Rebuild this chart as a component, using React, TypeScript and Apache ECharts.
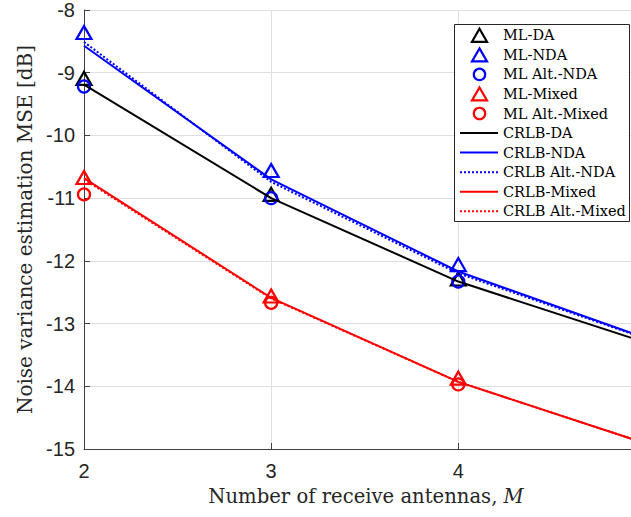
import React, { useEffect, useRef } from 'react';
import * as echarts from 'echarts';

// Number of receive antennas M
const antennasML = [2, 3, 4];
const antennasCRLB = [2, 3, 4, 5];

// Simulated ML estimators (markers)
const mlDA = [-9.09, -10.94, -12.29];
const mlNDA = [-8.36, -10.56, -12.06];
const mlAltNDA = [-9.22, -11.0, -12.33];
const mlMixed = [-10.67, -12.56, -13.87];
const mlAltMixed = [-10.94, -12.67, -13.97];

// CRLB curves (lines)
const crlbDA = [-9.19, -11.0, -12.33, -13.3];
const crlbNDA = [-8.57, -10.7, -12.17, -13.23];
const crlbAltNDA = [-8.51, -10.74, -12.2, -13.24];
const crlbMixed = [-10.68, -12.59, -13.93, -14.91];
const crlbAltMixed = [-10.7, -12.6, -13.93, -14.91];

const yTicks = [-15, -14, -13, -12, -11, -10, -9, -8];
const xTicks = [2, 3, 4];

const BLACK = '#000000';
const BLUE = '#0000ff';
const RED = '#ff0000';

type MarkerDef = { name: string; symbol: 'triangle' | 'circle'; color: string; values: number[] };
type LineDef = { name: string; dotted: boolean; color: string; values: number[] };

const markerDefs: MarkerDef[] = [
  { name: 'ML-DA', symbol: 'triangle', color: BLACK, values: mlDA },
  { name: 'ML-NDA', symbol: 'triangle', color: BLUE, values: mlNDA },
  { name: 'ML Alt.-NDA', symbol: 'circle', color: BLUE, values: mlAltNDA },
  { name: 'ML-Mixed', symbol: 'triangle', color: RED, values: mlMixed },
  { name: 'ML Alt.-Mixed', symbol: 'circle', color: RED, values: mlAltMixed },
];

const lineDefs: LineDef[] = [
  { name: 'CRLB-DA', dotted: false, color: BLACK, values: crlbDA },
  { name: 'CRLB-NDA', dotted: false, color: BLUE, values: crlbNDA },
  { name: 'CRLB Alt.-NDA', dotted: true, color: BLUE, values: crlbAltNDA },
  { name: 'CRLB-Mixed', dotted: false, color: RED, values: crlbMixed },
  { name: 'CRLB Alt.-Mixed', dotted: true, color: RED, values: crlbAltMixed },
];

const AXIS_COLOR = '#404040';
const TEXT_COLOR = '#262626';
const SERIF = '"DejaVu Serif", "Liberation Serif", serif';
const SANS = '"Liberation Sans", Arial, Helvetica, sans-serif';
const DOT_DASH = [2, 2];
const MARKER_STROKE = 2.2;

function buildLegend() {
  const left = 454.5;
  const top = 24.5;
  const width = 175;
  const height = 197;
  const firstY = 35.3;
  const step = 19.55;
  const iconCx = 479.5;
  const lineX1 = 460;
  const lineX2 = 498;
  const textX = 503;
  const children: any[] = [
    {
      type: 'rect',
      shape: { x: left, y: top, width, height },
      style: { fill: '#ffffff', stroke: '#262626', lineWidth: 1 },
      z: 100,
      silent: true,
    },
  ];
  const all: { name: string; draw: (cy: number) => any }[] = [];
  markerDefs.forEach((m) => {
    all.push({
      name: m.name,
      draw: (cy: number) =>
        m.symbol === 'triangle'
          ? {
              type: 'polygon',
              shape: {
                points: [
                  [iconCx, cy - 6.5],
                  [iconCx + 7.5, cy + 6.5],
                  [iconCx - 7.5, cy + 6.5],
                ],
              },
              style: { fill: 'none', stroke: m.color, lineWidth: MARKER_STROKE },
              z: 101,
              silent: true,
            }
          : {
              type: 'circle',
              shape: { cx: iconCx, cy, r: 5.7 },
              style: { fill: 'none', stroke: m.color, lineWidth: MARKER_STROKE },
              z: 101,
              silent: true,
            },
    });
  });
  lineDefs.forEach((l) => {
    all.push({
      name: l.name,
      draw: (cy: number) => ({
        type: 'line',
        shape: { x1: lineX1, y1: cy, x2: lineX2, y2: cy },
        style: {
          stroke: l.color,
          lineWidth: 2,
          lineDash: l.dotted ? DOT_DASH : null,
        },
        z: 101,
        silent: true,
      }),
    });
  });
  all.forEach((item, i) => {
    const cy = firstY + i * step;
    children.push(item.draw(cy));
    children.push({
      type: 'text',
      x: textX,
      y: cy,
      style: {
        text: item.name,
        fill: '#000000',
        font: `14.5px ${SERIF}`,
        textVerticalAlign: 'middle',
        verticalAlign: 'middle',
        align: 'left',
      },
      z: 101,
      silent: true,
    });
  });
  return children;
}

export default function App() {
  const ref = useRef<HTMLDivElement>(null);

  useEffect(() => {
    if (!ref.current) return;
    const chart = echarts.init(ref.current, undefined, { renderer: 'svg' });

    const series: any[] = [];
    markerDefs.forEach((m) => {
      series.push({
        name: m.name,
        type: 'scatter',
        symbol: m.symbol,
        symbolSize: m.symbol === 'triangle' ? [15, 13] : 12,
        data: antennasML.map((x, i) => [x, m.values[i]]),
        itemStyle: {
          color: 'rgba(0,0,0,0)',
          borderColor: m.color,
          borderWidth: MARKER_STROKE,
          opacity: 1,
        },
        silent: true,
        z: 2,
      });
    });
    lineDefs.forEach((l) => {
      series.push({
        name: l.name,
        type: 'line',
        symbol: 'none',
        data: antennasCRLB.map((x, i) => [x, l.values[i]]),
        lineStyle: {
          color: l.color,
          width: 2,
          type: l.dotted ? DOT_DASH : 'solid',
          cap: 'butt',
        },
        itemStyle: { color: l.color },
        clip: true,
        silent: true,
        z: 3,
      });
    });

    const option: any = {
      animation: false,
      backgroundColor: '#ffffff',
      grid: { left: 84, top: 8, right: -1, bottom: 68, containLabel: false },
      xAxis: {
        type: 'value',
        min: 2,
        max: 2 + (632 - 84) / 187.5,
        interval: 1,
        name: '{n|Number of receive antennas, }{m|M}',
        nameLocation: 'middle',
        nameGap: 37,
        nameTextStyle: {
          padding: [0, 0, 0, 17],
          rich: {
            n: { fontFamily: SERIF, fontSize: 19.6, color: TEXT_COLOR },
            m: { fontFamily: SERIF, fontSize: 19.6, fontStyle: 'italic', color: TEXT_COLOR },
          },
        },
        axisLine: { show: true, lineStyle: { color: AXIS_COLOR, width: 1 } },
        axisTick: { show: true, inside: true, length: 6, lineStyle: { color: AXIS_COLOR } },
        axisLabel: {
          fontFamily: SANS,
          fontSize: 20,
          color: TEXT_COLOR,
          margin: 12,
          showMaxLabel: false,
          formatter: (v: number) => (xTicks.includes(v) ? String(v) : ''),
        },
        splitLine: { show: true, lineStyle: { color: '#dfdfdf', width: 1 } },
      },
      yAxis: {
        type: 'value',
        min: yTicks[0],
        max: yTicks[yTicks.length - 1],
        interval: 1,
        name: 'Noise variance estimation MSE [dB]',
        nameLocation: 'middle',
        nameGap: 48,
        nameTextStyle: { fontFamily: SERIF, fontSize: 20, color: TEXT_COLOR },
        axisLine: { show: true, lineStyle: { color: AXIS_COLOR, width: 1 } },
        axisTick: { show: true, inside: true, length: 6, lineStyle: { color: AXIS_COLOR } },
        axisLabel: {
          fontFamily: SANS,
          fontSize: 20,
          color: TEXT_COLOR,
          margin: 9,
          formatter: (v: number) => String(v),
        },
        splitLine: { show: true, lineStyle: { color: '#dfdfdf', width: 1 } },
      },
      series,
      graphic: buildLegend(),
    };

    chart.setOption(option);
    return () => {
      chart.dispose();
    };
  }, []);

  return (
    <div
      ref={ref}
      style={{ position: 'absolute', left: 0, top: 0, width: 631, height: 517 }}
    />
  );
}
